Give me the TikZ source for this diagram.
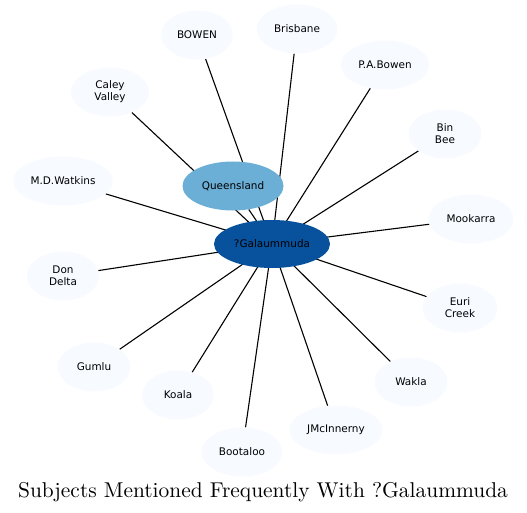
\documentclass[tikz,border=0pt]{standalone}
\usepackage{fontspec}
\newfontfamily\labelfont{DejaVu Sans}
\newfontfamily\titlefont[Extension=.otf]{lmroman10-regular}
\usetikzlibrary{shapes.geometric,backgrounds}
\definecolor{hubblue}{HTML}{08519C}
\definecolor{midblue}{HTML}{6BAED6}
\definecolor{paleblue}{HTML}{F7FBFF}
\tikzset{
  subject/.style={ellipse, fill=paleblue, inner sep=0pt, minimum height=49bp,
    align=center, font=\labelfont\fontsize{10.5}{12}\selectfont},
  link/.style={draw=black, line width=1.1bp}
}

\begin{document}
\begin{tikzpicture}[x=1bp, y=-1bp]
\useasboundingbox (0,0) rectangle (527,513);

\node[subject, fill=hubblue, minimum width=116bp, minimum height=48bp] (galaummuda) at (272,244) {?Galaummuda};
\node[subject, fill=midblue, minimum width=101bp] (queensland) at (233,186) {Queensland};

\node[subject, minimum width=72bp] (bowen) at (197,35) {BOWEN};
\node[subject, minimum width=81bp] (brisbane) at (297,29) {Brisbane};
\node[subject, minimum width=88bp] (pabowen) at (385,65) {P.A.Bowen};
\node[subject, minimum width=78bp] (caley) at (110,92) {Caley\\Valley};
\node[subject, minimum width=73bp] (binbee) at (445,134) {Bin\\Bee};
\node[subject, minimum width=100bp] (watkins) at (63,181) {M.D.Watkins};
\node[subject, minimum width=85bp] (mookarra) at (471,219) {Mookarra};
\node[subject, minimum width=72bp] (dondelta) at (63,276) {Don\\Delta};
\node[subject, minimum width=75bp] (euri) at (460,308) {Euri\\Creek};
\node[subject, minimum width=73bp] (gumlu) at (94,367) {Gumlu};
\node[subject, minimum width=73bp] (wakla) at (411,382) {Wakla};
\node[subject, minimum width=72bp] (koala) at (178,395) {Koala};
\node[subject, minimum width=93bp] (mcinnerny) at (336,430) {JMcInnerny};
\node[subject, minimum width=81bp] (bootaloo) at (242,452) {Bootaloo};

\node[anchor=base, font=\titlefont\fontsize{21.5}{24}\selectfont] (title) at (263,497.5) {Subjects Mentioned Frequently With ?Galaummuda};

\begin{pgfonlayer}{background}
\path[link] (galaummuda.center) edge (queensland);
\path[link] (galaummuda.center) edge (bowen);
\path[link] (galaummuda.center) edge (brisbane);
\path[link] (galaummuda.center) edge (pabowen);
\path[link] (galaummuda.center) edge (caley);
\path[link] (galaummuda.center) edge (binbee);
\path[link] (galaummuda.center) edge (watkins);
\path[link] (galaummuda.center) edge (mookarra);
\path[link] (galaummuda.center) edge (dondelta);
\path[link] (galaummuda.center) edge (euri);
\path[link] (galaummuda.center) edge (gumlu);
\path[link] (galaummuda.center) edge (wakla);
\path[link] (galaummuda.center) edge (koala);
\path[link] (galaummuda.center) edge (mcinnerny);
\path[link] (galaummuda.center) edge (bootaloo);
\end{pgfonlayer}
\end{tikzpicture}
\end{document}
